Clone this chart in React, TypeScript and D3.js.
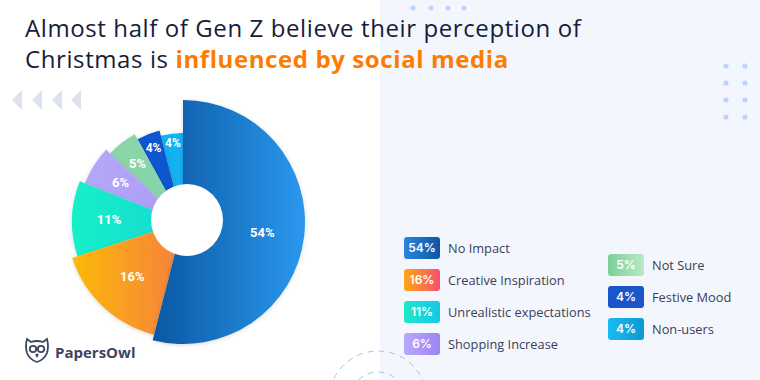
import React from "react";
import * as d3 from "d3";

const categories = [
  "No Impact",
  "Creative Inspiration",
  "Unrealistic expectations",
  "Shopping Increase",
  "Not Sure",
  "Festive Mood",
  "Non-users",
];
const values = [54, 16, 11, 6, 5, 4, 4];
const titleLine1 = "Almost half of Gen Z believe their perception of";
const titleLine2a = "Christmas is ";
const titleLine2b = "influenced by social media";

// styles
const sliceGrad: [string, string][] = [
  ["#0a57a3", "#2b98ee"],
  ["#fbb908", "#f6803f"],
  ["#15f0c8", "#14d8d3"],
  ["#b5a7f8", "#ab9cf6"],
  ["#8bd6a8", "#86d2ac"],
  ["#1157d0", "#1157d0"],
  ["#10b8f2", "#13aeee"],
];
const badgeGrad: [string, string][] = [
  ["#2b86dc", "#0c57a3"],
  ["#fda612", "#f7506f"],
  ["#1de8c6", "#17c6e7"],
  ["#b9a8fb", "#9c84f4"],
  ["#7ccf98", "#b7e9c6"],
  ["#1a55c9", "#1a55c9"],
  ["#19bcf1", "#0e98d2"],
];

const W = 760;
const H = 380;
const cx = 183;
const cy = 222;

export default function App() {
  const pie = d3
    .pie<number>()
    .sort(null)
    .startAngle(0)
    .endAngle(2 * Math.PI)
    .value((d) => d);
  const arcs = pie(values);
  const rScale = d3.scaleLinear().domain([0, values.length - 1]).range([122, 89]);
  const labelR = (i: number) => (i >= 5 ? 80 : i === 0 ? 80 : 74);

  const legendLeft = [0, 1, 2, 3];
  const legendRight = [4, 5, 6];
  const yLeft = d3.scalePoint<number>().domain(legendLeft).range([248, 344]);
  const yRight = d3.scalePoint<number>().domain(legendRight).range([265, 329]);

  const dotsX = [726, 745];
  const dotsY = [66, 83, 100, 117];
  const topDots = [413, 431, 448, 464];
  const chevrons = [12, 32, 52, 71];

  const legendItem = (i: number, x: number, y: number) => (
    <g key={i} transform={`translate(${x},${y})`}>
      <rect x={0} y={-11} width={36} height={22} rx={3} fill={`url(#bg${i})`} />
      <text
        x={18}
        y={0}
        dy="0.36em"
        textAnchor="middle"
        fill="#fff"
        fontFamily="Inter, sans-serif"
        fontWeight={600}
        fontSize={12}
      >
        {values[i]}%
      </text>
      <text
        x={44}
        y={0}
        dy="0.36em"
        fill="#3b4058"
        fontFamily="'Open Sans', sans-serif"
        fontSize={12.8}
      >
        {categories[i]}
      </text>
    </g>
  );

  return (
    <svg
      width={W}
      height={H}
      style={{ position: "absolute", left: 0, top: 0, display: "block" }}
    >
      <defs>
        {sliceGrad.map((g, i) => (
          <linearGradient key={i} id={`sg${i}`} x1="0" y1="0" x2="1" y2="0">
            <stop offset="0%" stopColor={g[0]} />
            <stop offset="100%" stopColor={g[1]} />
          </linearGradient>
        ))}
        {badgeGrad.map((g, i) => (
          <linearGradient key={i} id={`bg${i}`} x1="0" y1="0" x2="1" y2="0">
            <stop offset="0%" stopColor={g[0]} />
            <stop offset="100%" stopColor={g[1]} />
          </linearGradient>
        ))}
        <filter id="shadow" x="-20%" y="-20%" width="140%" height="140%">
          <feDropShadow dx="0" dy="1" stdDeviation="2" floodColor="#000" floodOpacity="0.15" />
        </filter>
      </defs>

      <rect x={0} y={0} width={W} height={H} fill="#ffffff" />
      <rect x={380} y={0} width={380} height={H} fill="#f3f7fd" />

      {/* decorations */}
      {topDots.map((x) => (
        <circle key={x} cx={x} cy={8} r={2.5} fill="#bcd6fb" />
      ))}
      {dotsX.map((x) =>
        dotsY.map((y) => <circle key={`${x}-${y}`} cx={x} cy={y} r={2.6} fill="#bcd6fb" />)
      )}
      {chevrons.map((x) => (
        <path key={x} d={`M${x},100 L${x + 10},90 L${x + 10},110 Z`} fill="#dde3ee" />
      ))}
      <circle cx={378} cy={400} r={49} fill="none" stroke="#9fc3ee" strokeWidth={1} strokeDasharray="6,5" />
      <circle cx={378} cy={400} r={28} fill="none" stroke="#9fc3ee" strokeWidth={1} strokeDasharray="6,5" />

      {/* title */}
      <text
        x={25}
        y={37}
        fill="#171c3a"
        fontFamily="'Open Sans', sans-serif"
        fontSize={24}
        letterSpacing={0.6}
      >
        {titleLine1}
      </text>
      <text
        x={25}
        y={68}
        fill="#171c3a"
        fontFamily="'Open Sans', sans-serif"
        fontSize={24}
        letterSpacing={0.6}
      >
        {titleLine2a}
        <tspan fill="#ff7b00" fontWeight={700}>
          {titleLine2b}
        </tspan>
      </text>

      {/* pie */}
      <g transform={`translate(${cx},${cy})`}>
        {arcs
          .map((a, i) => ({ a, i }))
          .reverse()
          .map(({ a, i }) => {
            const arcGen = d3.arc<any>().innerRadius(0).outerRadius(rScale(i));
            return (
              <path key={i} d={arcGen(a) || ""} fill={`url(#sg${i})`} filter="url(#shadow)" />
            );
          })}
      </g>
      <circle cx={187} cy={220} r={36} fill="#ffffff" />
      <g transform={`translate(${cx},${cy})`}>
        {arcs.map((a, i) => {
          const la = d3.arc<any>().innerRadius(labelR(i)).outerRadius(labelR(i));
          const [lx, ly] = la.centroid(a);
          return (
            <text
              key={i}
              x={lx}
              y={ly}
              dy="0.36em"
              textAnchor="middle"
              fill="#fff"
              fontFamily="Roboto, sans-serif"
              fontWeight={700}
              fontSize={i >= 5 ? 12 : 13}
            >
              {values[i]}%
            </text>
          );
        })}
      </g>

      {/* legend */}
      {legendLeft.map((i) => legendItem(i, 404, yLeft(i) as number))}
      {legendRight.map((i) => legendItem(i, 608, yRight(i) as number))}

      {/* logo */}
      <g transform="translate(25,336)" fill="none" stroke="#3d4560" strokeWidth={1.8}>
        <path d="M2,3 L6,6 Q12,4 18,6 L22,3 Q24,10 22,17 Q19,24 12,26 Q5,24 2,17 Q0,10 2,3 Z" />
        <circle cx={8} cy={13} r={3.2} />
        <circle cx={16} cy={13} r={3.2} />
        <path d="M11,18 L12,20 L13,18" />
      </g>
      <text
        x={55}
        y={358}
        fill="#3d4560"
        fontFamily="'Open Sans', sans-serif"
        fontWeight={700}
        fontSize={15}
      >
        PapersOwl
      </text>
    </svg>
  );
}
